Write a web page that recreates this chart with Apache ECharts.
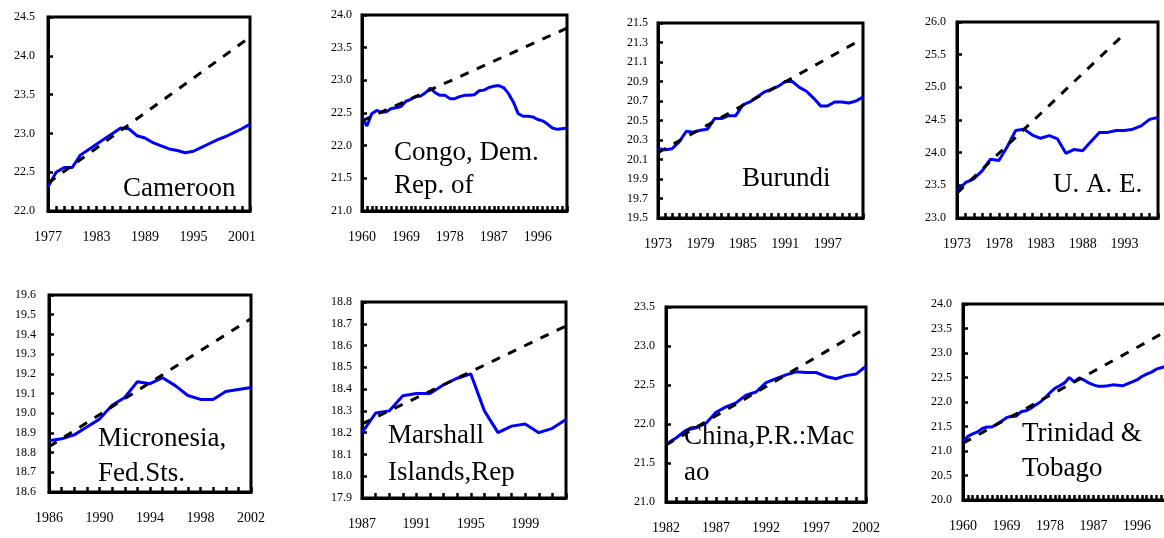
<!DOCTYPE html>
<html><head><meta charset="utf-8">
<script src="https://cdn.jsdelivr.net/npm/echarts@6/dist/echarts.min.js"></script>
<style>html,body{margin:0;padding:0;background:#fff}#c{width:1164px;height:538px}</style>
</head><body><div id="c"></div>
<script>
// ---------------- data ----------------
const cameroonYears = [1977, 2002];
const cameroonValues = [22.31,22.50,22.56,22.56,22.72,22.79,22.86,22.93,23.00,23.07,23.06,22.97,22.94,22.88,22.84,22.80,22.78,22.75,22.77,22.82,22.87,22.92,22.96,23.01,23.06,23.12];
const cameroonTrend = [[1977, 22.36], [2002, 24.24]];
const cameroonYTicks = [22.0, 24.5, 0.5];
const cameroonLabelStep = 6;

const congoYears = [1960, 2002];
const congoValues = [22.43,22.30,22.49,22.54,22.51,22.52,22.57,22.58,22.60,22.68,
  22.71,22.75,22.76,22.81,22.88,22.81,22.77,22.77,22.72,22.72,
  22.75,22.77,22.77,22.78,22.84,22.85,22.89,22.91,22.92,22.89,
  22.80,22.67,22.49,22.45,22.45,22.44,22.40,22.38,22.33,22.27,
  22.25,22.26,22.27];
const congoTrend = [[1960, 22.38], [2002, 23.80]];
const congoYTicks = [21.0, 24.0, 0.5];
const congoLabelStep = 9;

const burundiYears = [1973, 2002];
const burundiValues = [20.21,20.20,20.21,20.28,20.39,20.38,20.40,20.41,20.52,20.52,
  20.55,20.55,20.66,20.69,20.74,20.79,20.82,20.85,20.90,20.90,
  20.84,20.80,20.73,20.65,20.65,20.69,20.69,20.68,20.70,20.74];
const burundiTrend = [[1973, 20.17], [2002, 21.34]];
const burundiYTicks = [19.5, 21.5, 0.2];
const burundiLabelStep = 6;

const uaeYears = [1973, 1997];
const uaeValues = [23.41,23.54,23.60,23.72,23.90,23.88,24.09,24.34,24.36,24.27,
  24.22,24.26,24.21,23.99,24.05,24.03,24.17,24.31,24.31,24.34,
  24.34,24.36,24.41,24.51,24.54];
const uaeTrend = [[1973, 23.38], [1993, 25.82]];
const uaeYTicks = [23.0, 26.0, 0.5];
const uaeLabelStep = 5;

const micronesiaYears = [1986, 2002];
const micronesiaValues = [18.86,18.87,18.89,18.93,18.97,19.04,19.08,19.16,19.15,19.18,19.14,19.09,19.07,19.07,19.11,19.12,19.13];
const micronesiaTrend = [[1986, 18.83], [2002, 19.48]];
const micronesiaYTicks = [18.6, 19.6, 0.1];
const micronesiaLabelStep = 4;

const marshallYears = [1987, 2002];
const marshallValues = [18.20,18.29,18.30,18.37,18.38,18.38,18.42,18.45,18.47,18.30,18.20,18.23,18.24,18.20,18.22,18.26];
const marshallTrend = [[1987, 18.24], [2002, 18.69]];
const marshallYTicks = [17.9, 18.8, 0.1];
const marshallLabelStep = 4;

const macaoYears = [1982, 2002];
const macaoValues = [21.74,21.82,21.92,21.95,22.01,22.15,22.22,22.27,22.37,22.41,22.53,22.58,22.63,22.67,22.66,22.66,22.61,22.58,22.62,22.64,22.74];
const macaoTrend = [[1982, 21.73], [2002, 23.23]];
const macaoYTicks = [21.0, 23.5, 0.5];
const macaoLabelStep = 5;

const trinidadYears = [1960, 2002];
const trinidadValues = [21.18,21.30,21.35,21.39,21.46,21.49,21.49,21.55,21.61,21.68,
  21.71,21.71,21.80,21.82,21.87,21.94,22.00,22.09,22.19,22.28,
  22.33,22.39,22.50,22.41,22.49,22.45,22.39,22.35,22.32,22.32,
  22.33,22.35,22.34,22.33,22.37,22.41,22.45,22.52,22.57,22.61,
  22.67,22.70,22.73];
const trinidadTrend = [[1960, 21.16], [2002, 23.44]];
const trinidadYTicks = [20.0, 24.0, 0.5];
const trinidadLabelStep = 9;

const countryNames = ["Cameroon", "Congo, Dem.\nRep. of", "Burundi", "U. A. E.",
  "Micronesia,\nFed.Sts.", "Marshall\nIslands,Rep", "China,P.R.:Mac\nao", "Trinidad &\nTobago"];

// ---------------- layout ----------------
const panels = [
  {years: cameroonYears, values: cameroonValues, trend: cameroonTrend, yt: cameroonYTicks, step: cameroonLabelStep, ym: 13,
   grid: {left: 48, top: 17, width: 202, height: 194}, name: {left: 123, top: 174, lh: 30}},
  {years: congoYears, values: congoValues, trend: congoTrend, yt: congoYTicks, step: congoLabelStep, ym: 10,
   grid: {left: 362, top: 15, width: 205, height: 196}, name: {left: 394, top: 136, lh: 33}},
  {years: burundiYears, values: burundiValues, trend: burundiTrend, yt: burundiYTicks, step: burundiLabelStep, ym: 10,
   grid: {left: 658, top: 23, width: 205, height: 195}, name: {left: 742, top: 164, lh: 30}},
  {years: uaeYears, values: uaeValues, trend: uaeTrend, yt: uaeYTicks, step: uaeLabelStep, ym: 11,
   grid: {left: 957, top: 22, width: 201, height: 196}, name: {left: 1053, top: 170, lh: 30}},
  {years: micronesiaYears, values: micronesiaValues, trend: micronesiaTrend, yt: micronesiaYTicks, step: micronesiaLabelStep, ym: 13,
   grid: {left: 49, top: 295, width: 202, height: 197}, name: {left: 98, top: 421, lh: 35}},
  {years: marshallYears, values: marshallValues, trend: marshallTrend, yt: marshallYTicks, step: marshallLabelStep, ym: 10,
   grid: {left: 362, top: 302, width: 204, height: 196}, name: {left: 388, top: 417, lh: 37}},
  {years: macaoYears, values: macaoValues, trend: macaoTrend, yt: macaoYTicks, step: macaoLabelStep, ym: 11,
   grid: {left: 666, top: 307, width: 200, height: 195}, name: {left: 684, top: 419, lh: 36}},
  {years: trinidadYears, values: trinidadValues, trend: trinidadTrend, yt: trinidadYTicks, step: trinidadLabelStep, ym: 11,
   grid: {left: 963, top: 304, width: 203, height: 196}, name: {left: 1022, top: 416, lh: 35}}
];

const FONT = 'Liberation Serif, Times New Roman, serif';
const grids = [], xAxes = [], yAxes = [], series = [], titles = [];

panels.forEach((p, i) => {
  const cats = [];
  for (let y = p.years[0]; y <= p.years[1]; y++) cats.push(String(y));
  const trendData = cats.map(() => null);
  p.trend.forEach(([yr, v]) => { trendData[yr - p.years[0]] = v; });

  grids.push(Object.assign({show: true, borderColor: '#000', borderWidth: 3, backgroundColor: '#fff',
    containLabel: false, outerBoundsMode: 'none'}, p.grid));
  xAxes.push({
    type: 'category', gridIndex: i, data: cats, boundaryGap: false,
    axisLine: {show: true, lineStyle: {color: '#000', width: 3}},
    axisTick: {show: true, inside: true, length: 5, interval: 0, lineStyle: {color: '#000', width: 2.5}},
    axisLabel: {interval: p.step - 1, margin: 19, fontFamily: FONT, fontSize: 14, color: '#000'},
    splitLine: {show: false}
  });
  yAxes.push({
    type: 'value', gridIndex: i, min: p.yt[0], max: p.yt[1], interval: p.yt[2],
    axisLine: {show: true, lineStyle: {color: '#000', width: 3}},
    axisTick: {show: true, inside: true, length: 5, lineStyle: {color: '#000', width: 2.5}},
    axisLabel: {margin: p.ym, fontFamily: FONT, fontSize: 12, color: '#000',
      formatter: v => Number(v).toFixed(1)},
    splitLine: {show: false}
  });
  series.push({
    type: 'line', xAxisIndex: i, yAxisIndex: i, data: p.values, showSymbol: false, symbol: 'none',
    lineStyle: {color: '#0000FF', width: 3}, z: 3
  });
  series.push({
    type: 'line', xAxisIndex: i, yAxisIndex: i, data: trendData, connectNulls: true, showSymbol: false, symbol: 'none',
    lineStyle: {color: '#000', width: 3, type: [9, 9]}, z: 4
  });
  titles.push({
    text: countryNames[i], left: p.name.left, top: p.name.top, padding: 0,
    textStyle: {fontFamily: FONT, fontSize: 27, fontWeight: 'normal', color: '#000', lineHeight: p.name.lh}
  });
});

const chart = echarts.init(document.getElementById('c'), null, {renderer: 'canvas'});
chart.setOption({
  animation: false,
  backgroundColor: '#fff',
  title: titles,
  grid: grids,
  xAxis: xAxes,
  yAxis: yAxes,
  series: series
});
</script>
</body></html>
